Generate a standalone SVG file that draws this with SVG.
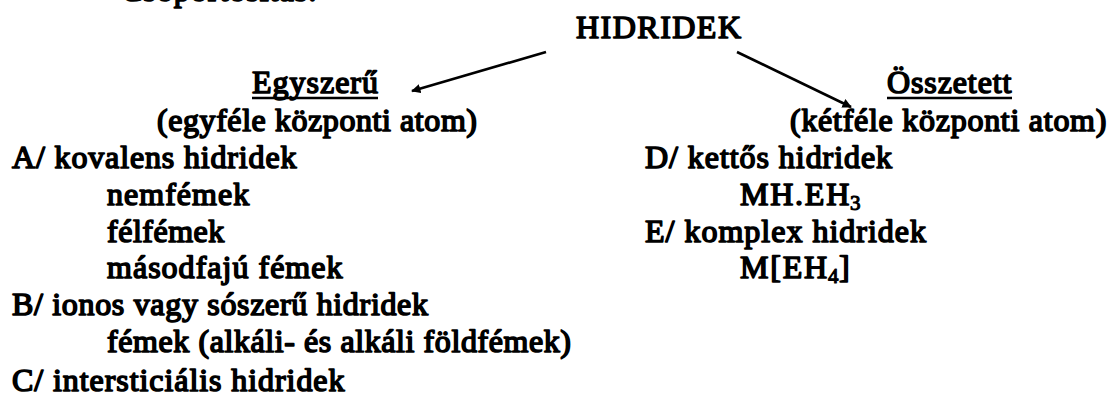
<svg xmlns="http://www.w3.org/2000/svg" width="1109" height="394" viewBox="0 0 1109 394">
  <style>
    /* Times-metric serif; weight is built up with a thin outline */
    .t { font-family: 'Liberation Serif', 'DejaVu Serif', serif; font-weight: 400; font-size: 32px; fill: #000; stroke: #000; stroke-width: 1.6; stroke-linejoin: round; }
    .sub { font-size: 21px; stroke-width: 1.1; }
    .edge { stroke: #000; stroke-width: 2.6; fill: none; marker-end: url(#head); }
    .ul { stroke: #000; stroke-width: 2.6; }
  </style>
  <defs>
    <marker id="head" viewBox="0 0 10 10" refX="9" refY="5" markerWidth="3.8" markerHeight="3.6" orient="auto" markerUnits="strokeWidth">
      <path d="M0,0 L10,5 L0,10 z" fill="#000"/>
    </marker>
  </defs>
  <rect width="1109" height="394" fill="#fff"/>

  <!-- section heading, mostly above the top edge -->
  <text class="t" x="121" y="0.5" textLength="196" lengthAdjust="spacing">Csoportosítás:</text>

  <g id="root">
    <text class="t" x="576" y="38" textLength="165" lengthAdjust="spacing">HIDRIDEK</text>
  </g>

  <g id="connectors">
    <line class="edge" x1="546" y1="52" x2="412" y2="91"/>
    <line class="edge" x1="737" y1="52" x2="851" y2="107"/>
  </g>

  <g id="simple">
    <text class="t" x="252" y="93" textLength="126" lengthAdjust="spacing">Egyszerű</text>
    <line class="ul" x1="252" y1="98" x2="378" y2="98"/>
    <text class="t" x="157" y="131" textLength="320" lengthAdjust="spacing">(egyféle központi atom)</text>
    <text class="t" x="12" y="168" textLength="284.5" lengthAdjust="spacing">A/ kovalens hidridek</text>
    <text class="t" x="107" y="205" textLength="142.2" lengthAdjust="spacing">nemfémek</text>
    <text class="t" x="107" y="242" textLength="117.3" lengthAdjust="spacing">félfémek</text>
    <text class="t" x="107" y="278" textLength="235.5" lengthAdjust="spacing">másodfajú fémek</text>
    <text class="t" x="12" y="315" textLength="416" lengthAdjust="spacing">B/ ionos vagy sószerű hidridek</text>
    <text class="t" x="107" y="352" textLength="464" lengthAdjust="spacing">fémek (alkáli- és alkáli földfémek)</text>
    <text class="t" x="12" y="391" textLength="332.5" lengthAdjust="spacing">C/ intersticiális hidridek</text>
  </g>

  <g id="compound">
    <text class="t" x="887" y="93" textLength="124.4" lengthAdjust="spacing">Összetett</text>
    <line class="ul" x1="887" y1="98" x2="1012" y2="98"/>
    <text class="t" x="790" y="131" textLength="316.4" lengthAdjust="spacing">(kétféle központi atom)</text>
    <text class="t" x="645" y="168" textLength="247.1" lengthAdjust="spacing">D/ kettős hidridek</text>
    <text class="t" x="740" y="205" textLength="109.3" lengthAdjust="spacing">MH.EH</text>
    <text class="t sub" x="850" y="210">3</text>
    <text class="t" x="645" y="242" textLength="281" lengthAdjust="spacing">E/ komplex hidridek</text>
    <text class="t" x="740" y="278" textLength="87.1" lengthAdjust="spacing">M[EH</text>
    <text class="t sub" x="828" y="283">4</text>
    <text class="t" x="839" y="278">]</text>
  </g>
</svg>
